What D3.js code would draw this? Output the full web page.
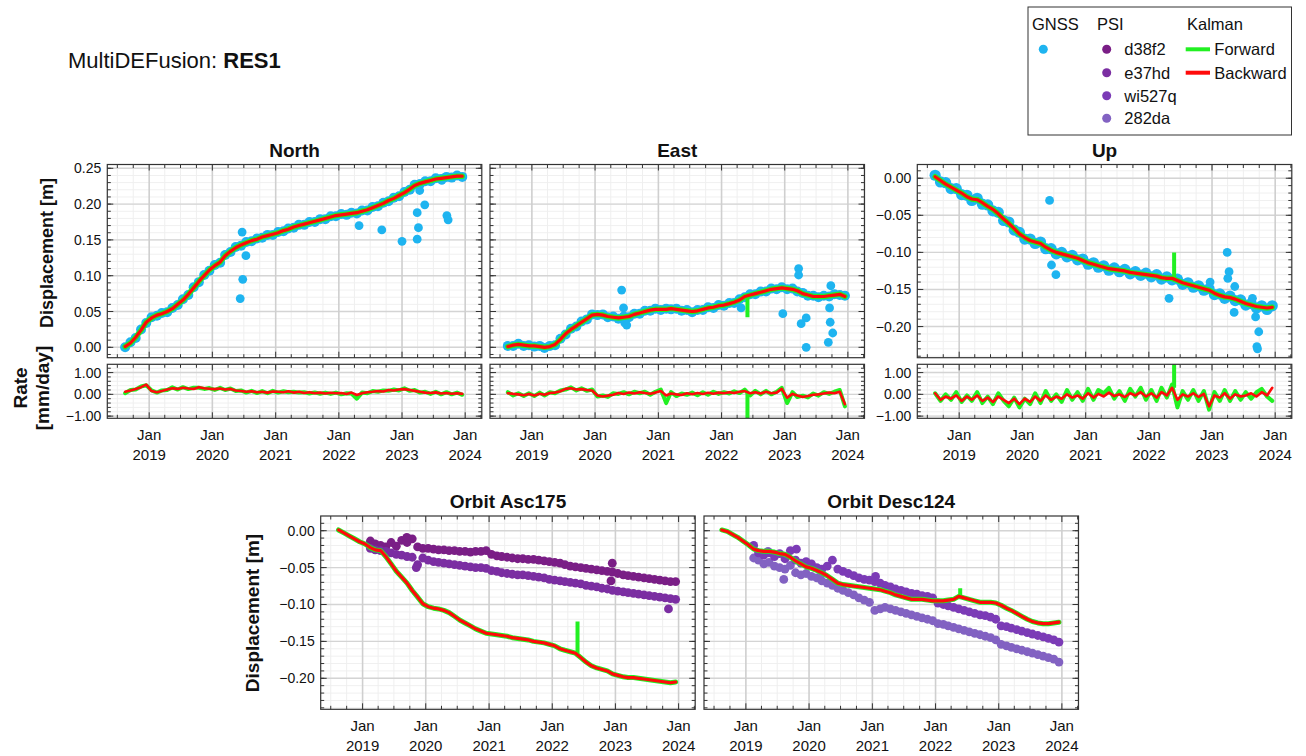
<!DOCTYPE html>
<html>
<head>
<meta charset="utf-8">
<script src="https://cdn.jsdelivr.net/npm/d3@7"></script>
<style>
body { margin: 0; background: #fff; }
text { font-family: "Liberation Sans", Arial, sans-serif; fill: #111; }
</style>
</head>
<body>
<svg id="chart"></svg>
<script>
// ---- data (monthly, Aug 2018 .. Dec 2023; PSI from Feb 2019) ----
let yearTicks = [2019, 2020, 2021, 2022, 2023, 2024]

let gnssNorth = [0.000,0.007,0.013,0.025,0.034,
  0.042,0.044,0.048,0.049,0.055,0.059,0.067,0.073,0.084,0.091,0.101,0.107,
  0.115,0.118,0.129,0.133,0.140,0.142,0.147,0.148,0.152,0.153,0.157,0.157,
  0.161,0.162,0.166,0.167,0.171,0.171,0.175,0.175,0.179,0.179,0.183,0.183,
  0.186,0.185,0.188,0.187,0.191,0.191,0.196,0.197,0.202,0.204,0.209,0.211,
  0.217,0.220,0.227,0.228,0.232,0.232,0.236,0.235,0.238,0.237,0.240,0.238]
let kalmanNorth = [0.001,0.006,0.014,0.024,0.035,
  0.041,0.045,0.047,0.050,0.054,0.060,0.066,0.074,0.083,0.092,0.100,0.108,
  0.114,0.119,0.128,0.134,0.139,0.143,0.146,0.149,0.151,0.154,0.156,0.158,
  0.160,0.163,0.165,0.168,0.170,0.172,0.174,0.176,0.178,0.180,0.182,0.184,
  0.185,0.186,0.187,0.188,0.190,0.192,0.195,0.198,0.201,0.205,0.208,0.212,
  0.216,0.221,0.226,0.229,0.231,0.233,0.235,0.236,0.237,0.238,0.239,0.239]
let outNorth = [[2020.47,0.161],[2020.53,0.128],[2020.48,0.095],[2020.44,0.068],[2022.32,0.170],
  [2022.68,0.164],[2023.0,0.148],[2023.24,0.151],[2023.24,0.188],[2023.26,0.167],[2023.28,0.219],
  [2023.36,0.199],[2023.71,0.184],[2023.73,0.178],[2023.63,0.233]]

let gnssEast = [0.002,0.002,0.005,0.002,0.003,
  0.001,0.002,-0.001,0.002,0.003,0.012,0.018,0.026,0.029,0.036,0.039,0.046,
  0.045,0.046,0.042,0.043,0.040,0.043,0.042,0.047,0.047,0.051,0.051,0.054,
  0.052,0.054,0.053,0.054,0.051,0.052,0.049,0.052,0.052,0.056,0.055,0.059,
  0.058,0.062,0.062,0.067,0.070,0.074,0.074,0.078,0.078,0.082,0.081,0.084,
  0.081,0.082,0.078,0.076,0.072,0.072,0.070,0.072,0.071,0.074,0.073,0.072]
let kalmanEast = [0.001,0.003,0.004,0.003,0.002,
  0.002,0.001,0.000,0.001,0.004,0.011,0.019,0.025,0.030,0.035,0.040,0.045,
  0.046,0.045,0.043,0.042,0.041,0.042,0.043,0.046,0.048,0.050,0.052,0.053,
  0.053,0.053,0.054,0.053,0.052,0.051,0.050,0.051,0.053,0.055,0.056,0.058,
  0.059,0.061,0.063,0.066,0.071,0.073,0.075,0.077,0.079,0.081,0.082,0.083,
  0.082,0.081,0.079,0.075,0.073,0.071,0.071,0.071,0.072,0.073,0.074,0.071]
let outEast = [[2020.42,0.080],[2020.45,0.055],[2020.47,0.034],[2020.5,0.031],[2022.31,0.055],
  [2022.97,0.047],[2023.22,0.110],[2023.22,0.101],[2023.26,0.033],[2023.34,0.041],[2023.34,0.000],
  [2023.73,0.086],[2023.71,0.055],[2023.72,0.035],[2023.76,0.020],[2023.69,0.007]]

let gnssUp = [0.004,-0.005,-0.006,-0.014,-0.014,
  -0.022,-0.023,-0.030,-0.027,-0.035,-0.036,-0.044,-0.046,-0.057,-0.059,-0.070,-0.073,
  -0.082,-0.082,-0.088,-0.086,-0.095,-0.095,-0.102,-0.100,-0.106,-0.104,-0.110,-0.109,
  -0.116,-0.114,-0.120,-0.118,-0.124,-0.121,-0.126,-0.123,-0.129,-0.126,-0.131,-0.128,
  -0.133,-0.130,-0.136,-0.133,-0.137,-0.136,-0.143,-0.141,-0.147,-0.145,-0.151,-0.149,
  -0.157,-0.156,-0.162,-0.159,-0.165,-0.164,-0.171,-0.169,-0.175,-0.172,-0.177,-0.172]
let kalmanUp = [0.002,-0.003,-0.008,-0.012,-0.016,
  -0.020,-0.025,-0.028,-0.029,-0.033,-0.038,-0.042,-0.048,-0.055,-0.061,-0.068,-0.075,
  -0.080,-0.084,-0.086,-0.088,-0.093,-0.097,-0.100,-0.102,-0.104,-0.106,-0.108,-0.111,
  -0.114,-0.116,-0.118,-0.120,-0.122,-0.123,-0.124,-0.125,-0.127,-0.128,-0.129,-0.130,
  -0.131,-0.132,-0.134,-0.135,-0.135,-0.138,-0.141,-0.143,-0.145,-0.147,-0.149,-0.151,
  -0.155,-0.158,-0.160,-0.161,-0.163,-0.166,-0.169,-0.171,-0.173,-0.174,-0.175,-0.174]
let outUp = [[2020.43,-0.030],[2020.46,-0.117],[2020.53,-0.130],[2022.32,-0.162],[2022.97,-0.140],
  [2023.24,-0.100],[2023.27,-0.126],[2023.25,-0.135],[2023.36,-0.146],[2023.35,-0.181],
  [2023.64,-0.162],[2023.69,-0.187],[2023.74,-0.207],[2023.71,-0.227],[2023.72,-0.230]]

// forward-filter excursions: [decimal year, from, to]
let spikeEast = [[2022.41, 0.070, 0.042]]
let spikeUp = [[2022.40, -0.134, -0.100]]
let spikeAsc = [[2022.40, -0.166, -0.123]]
let spikeDesc = [[2022.39, -0.089, -0.078]]

// rates [mm/day]
let rateNorthFwd = [0.05,0.20,0.22,0.36,0.42,
  0.18,0.08,0.18,0.20,0.32,0.22,0.33,0.24,0.30,0.30,0.25,0.29,
  0.20,0.30,0.20,0.27,0.15,0.18,0.08,0.16,0.06,0.15,0.05,0.16,
  0.08,0.14,0.10,0.12,0.08,0.10,0.04,0.09,0.03,0.08,0.02,0.08,
  0.00,0.05,0.04,-0.20,0.08,0.05,0.15,0.12,0.18,0.16,0.22,0.18,
  0.28,0.16,0.20,0.08,0.12,0.02,0.12,0.00,0.10,0.00,0.08,-0.02]
let rateNorthBwd = [0.12,0.18,0.25,0.33,0.45,
  0.15,0.10,0.15,0.22,0.28,0.25,0.30,0.27,0.25,0.33,0.28,0.26,
  0.24,0.27,0.22,0.25,0.18,0.15,0.12,0.14,0.10,0.12,0.08,0.13,
  0.12,0.10,0.14,0.08,0.12,0.06,0.10,0.05,0.08,0.04,0.07,0.05,
  0.06,0.02,0.08,-0.03,0.05,0.10,0.12,0.15,0.13,0.20,0.18,0.22,
  0.24,0.20,0.16,0.12,0.08,0.06,0.09,0.04,0.06,0.03,0.05,0.02]
let rateEastFwd = [0.10,-0.05,0.05,-0.08,0.05,
  -0.08,0.08,-0.05,0.10,0.05,0.18,0.22,0.32,0.18,0.28,0.16,0.22,
  -0.10,-0.05,-0.12,0.05,0.02,0.10,0.00,0.12,0.05,0.12,-0.02,0.12,
  0.22,-0.40,0.10,-0.08,0.04,-0.02,0.08,-0.04,0.10,-0.02,0.12,0.02,
  0.10,0.04,0.14,0.06,0.22,-0.05,0.16,0.00,0.16,0.00,0.12,0.30,
  -0.40,0.10,-0.12,-0.06,-0.14,0.04,-0.06,0.10,0.02,0.12,0.20,-0.55]
let rateEastBwd = [0.05,0.02,0.00,-0.04,0.02,
  -0.05,0.03,-0.02,0.06,0.08,0.14,0.25,0.28,0.22,0.24,0.20,0.18,
  -0.05,-0.10,-0.06,-0.02,0.06,0.02,0.08,0.04,0.10,0.06,0.03,0.08,
  0.15,-0.05,0.04,0.00,-0.03,0.05,0.00,0.06,0.02,0.07,0.03,0.08,
  0.05,0.10,0.06,0.12,0.15,0.05,0.10,0.04,0.12,0.05,0.08,0.25,
  -0.15,0.02,-0.05,-0.12,-0.08,-0.02,0.00,0.04,0.08,0.05,0.12,-0.45]
let rateUpFwd = [0.05,-0.30,0.00,-0.25,0.10,
  -0.35,-0.05,-0.30,0.10,-0.40,-0.10,-0.45,0.05,-0.30,-0.55,-0.15,-0.60,
  -0.20,-0.45,0.05,-0.40,0.15,-0.30,0.00,-0.35,0.20,-0.25,0.10,-0.30,
  0.25,-0.25,0.20,0.05,0.30,-0.20,0.15,-0.30,0.25,-0.10,0.30,-0.25,
  0.20,-0.30,0.30,-0.15,0.45,-0.60,0.15,-0.25,0.20,-0.30,0.15,-0.70,
  0.10,-0.30,0.20,-0.30,0.15,-0.25,0.10,-0.20,0.10,0.25,-0.10,-0.30]
let rateUpBwd = [0.05,-0.25,-0.10,-0.20,-0.05,
  -0.30,-0.10,-0.25,-0.05,-0.30,-0.15,-0.35,-0.10,-0.25,-0.40,-0.20,-0.45,
  -0.20,-0.35,-0.10,-0.30,-0.05,-0.25,-0.10,-0.20,0.00,-0.15,-0.05,-0.20,
  0.05,-0.15,0.02,-0.10,0.08,-0.08,0.00,-0.12,0.05,-0.05,0.10,-0.10,
  0.05,-0.15,0.10,-0.05,0.30,-0.25,0.00,-0.10,0.05,-0.12,0.02,-0.55,
  -0.05,-0.15,0.05,-0.20,0.00,-0.10,-0.05,0.05,-0.10,0.10,-0.05,0.30]
let rateSpikeEast = [[2022.41, 0.10, -1.4]]
let rateSpikeUp = [[2022.40, 0.30, 1.6]]

let kalmanAsc = [0.001,-0.003,-0.007,-0.011,-0.015,
  -0.018,-0.023,-0.026,-0.027,-0.035,-0.045,-0.055,-0.063,-0.071,-0.081,-0.090,-0.099,
  -0.103,-0.105,-0.106,-0.108,-0.111,-0.116,-0.121,-0.125,-0.129,-0.133,-0.136,-0.139,
  -0.140,-0.141,-0.142,-0.143,-0.145,-0.146,-0.147,-0.148,-0.150,-0.151,-0.152,-0.154,
  -0.156,-0.160,-0.162,-0.164,-0.166,-0.172,-0.178,-0.183,-0.186,-0.188,-0.190,-0.194,
  -0.196,-0.198,-0.199,-0.199,-0.200,-0.201,-0.202,-0.203,-0.204,-0.205,-0.206,-0.205]
let psiD38f2 = [-0.014,-0.018,-0.020,-0.022,-0.016,-0.021,-0.013,-0.016,-0.011,-0.022,-0.024,
  -0.024,-0.025,-0.026,-0.026,-0.027,-0.027,-0.028,-0.028,-0.029,-0.028,-0.028,-0.027,
  -0.032,-0.034,-0.035,-0.036,-0.037,-0.038,-0.038,-0.039,-0.039,-0.040,-0.041,-0.042,
  -0.043,-0.044,-0.046,-0.048,-0.049,-0.050,-0.051,-0.052,-0.053,-0.054,-0.055,-0.056,
  -0.058,-0.060,-0.061,-0.062,-0.063,-0.064,-0.065,-0.066,-0.067,-0.068,-0.069,-0.069]
let psiE37hd = [-0.024,-0.026,-0.027,-0.028,-0.030,-0.032,-0.033,-0.035,-0.036,-0.046,-0.037,
  -0.040,-0.042,-0.043,-0.044,-0.045,-0.046,-0.047,-0.048,-0.049,-0.050,-0.050,-0.051,
  -0.054,-0.055,-0.057,-0.058,-0.059,-0.060,-0.060,-0.061,-0.062,-0.063,-0.064,-0.066,
  -0.067,-0.068,-0.069,-0.070,-0.071,-0.072,-0.074,-0.075,-0.076,-0.078,-0.079,-0.081,
  -0.082,-0.083,-0.084,-0.085,-0.086,-0.087,-0.088,-0.089,-0.090,-0.091,-0.092,-0.093]
let outD38f2 = [[2022.95,-0.044],[2022.93,-0.068],[2019.7,-0.009]]
let outE37hd = [[2023.84,-0.106],[2019.85,-0.050]]

let kalmanDesc = [0.001,-0.001,-0.005,-0.009,-0.014,
  -0.019,-0.025,-0.027,-0.028,-0.028,-0.029,-0.031,-0.032,-0.036,-0.041,-0.045,-0.049,
  -0.051,-0.054,-0.057,-0.061,-0.066,-0.071,-0.073,-0.074,-0.075,-0.076,-0.077,-0.078,
  -0.079,-0.080,-0.082,-0.084,-0.087,-0.089,-0.091,-0.093,-0.093,-0.093,-0.094,-0.095,
  -0.095,-0.095,-0.094,-0.093,-0.089,-0.091,-0.093,-0.095,-0.097,-0.097,-0.097,-0.098,
  -0.101,-0.105,-0.108,-0.112,-0.116,-0.120,-0.123,-0.125,-0.126,-0.126,-0.125,-0.124]
let psiWi527q = [-0.020,-0.030,-0.033,-0.030,-0.035,-0.031,-0.038,-0.027,-0.040,-0.044,-0.042,
  -0.045,-0.050,-0.052,-0.048,-0.040,-0.052,-0.055,-0.058,-0.061,-0.064,-0.066,-0.067,
  -0.069,-0.071,-0.074,-0.076,-0.079,-0.081,-0.083,-0.085,-0.086,-0.088,-0.089,-0.091,
  -0.098,-0.100,-0.102,-0.104,-0.106,-0.108,-0.110,-0.112,-0.114,-0.115,-0.117,-0.120,
  -0.129,-0.130,-0.132,-0.134,-0.136,-0.138,-0.140,-0.142,-0.144,-0.146,-0.148,-0.151]
let psi282da = [-0.037,-0.040,-0.045,-0.043,-0.048,-0.050,-0.052,-0.047,-0.057,-0.060,-0.058,
  -0.062,-0.064,-0.068,-0.071,-0.074,-0.078,-0.081,-0.084,-0.087,-0.091,-0.094,-0.097,
  -0.108,-0.106,-0.104,-0.106,-0.108,-0.110,-0.112,-0.114,-0.116,-0.118,-0.120,-0.122,
  -0.126,-0.127,-0.129,-0.131,-0.133,-0.135,-0.137,-0.139,-0.141,-0.143,-0.145,-0.148,
  -0.154,-0.156,-0.158,-0.160,-0.162,-0.164,-0.166,-0.168,-0.170,-0.172,-0.174,-0.178]
let outWi527q = [[2019.8,-0.025],[2021.05,-0.062]]
let out282da = [[2019.35,-0.028],[2019.6,-0.066],[2020.2,-0.058]]

let colors = {
  gnss: '#1eb4f0', fwd: '#22f022', bwd: '#ff0a0a',
  d38f2: '#7a1e86', e37hd: '#7b2ea2', wi527q: '#7b3bb6', '282da': '#8262c2'
}

// ---- layout ----
let svg = d3.select('#chart').attr('width', 1306).attr('height', 756)
let panelW = 374.5
let months = d3.timeMonth.range(new Date(2018, 7, 1), new Date(2024, 0, 1)).map(d => d3.timeDay.offset(d, 14))
let psiMonths = months.slice(6)
let clipN = 0

let toDate = (t) => {
    let y = Math.floor(t)
    let s = new Date(y, 0, 1), e = new Date(y + 1, 0, 1)
    return new Date(+s + (t - y) * (e - s))
}
let zip = (dates, vals) => dates.map((d, i) => [d, vals[i]])

let drawPanel = (cfg) => {
    let x = d3.scaleTime().domain([new Date(2018, 4, 4), new Date(2024, 3, 6)]).range([cfg.x0, cfg.x0 + panelW])
    let y = d3.scaleLinear().domain(cfg.domain).range([cfg.y0 + cfg.h, cfg.y0])
    let x1 = cfg.x0 + panelW, y1 = cfg.y0 + cfg.h
    let g = svg.append('g')

    let minorX = d3.timeMonth.every(3).range(x.domain()[0], x.domain()[1]).filter(d => d.getMonth() != 0)
    let majorX = yearTicks.map(t => new Date(t, 0, 1))
    let minorY = d3.range(Math.ceil(cfg.domain[0] / cfg.minor), Math.floor(cfg.domain[1] / cfg.minor) + 1).map(k => k * cfg.minor)

    // grid
    g.selectAll(null).data(minorY).enter().append('line')
        .attr('x1', cfg.x0).attr('x2', x1).attr('y1', d => y(d)).attr('y2', d => y(d))
        .attr('stroke', '#f0f0f0').attr('stroke-width', 1)
    g.selectAll(null).data(minorX).enter().append('line')
        .attr('x1', d => x(d)).attr('x2', d => x(d)).attr('y1', cfg.y0).attr('y2', y1)
        .attr('stroke', '#efefef').attr('stroke-width', 1)
    g.selectAll(null).data(cfg.major).enter().append('line')
        .attr('x1', cfg.x0).attr('x2', x1).attr('y1', d => y(d)).attr('y2', d => y(d))
        .attr('stroke', '#d4d4d4').attr('stroke-width', 1.4)
    g.selectAll(null).data(majorX).enter().append('line')
        .attr('x1', d => x(d)).attr('x2', d => x(d)).attr('y1', cfg.y0).attr('y2', y1)
        .attr('stroke', '#cfcfcf').attr('stroke-width', 1.6)

    let id = 'clip' + (clipN++)
    svg.append('clipPath').attr('id', id).append('rect')
        .attr('x', cfg.x0).attr('y', cfg.y0).attr('width', panelW).attr('height', cfg.h)
    let plot = svg.append('g').attr('clip-path', 'url(#' + id + ')')

    // frame and inward ticks, drawn after the data
    let finish = () => {
        let f = svg.append('g').attr('stroke', '#333').attr('stroke-width', 1)
        let tickX = (d, len) => {
            f.append('line').attr('x1', x(d)).attr('x2', x(d)).attr('y1', y1).attr('y2', y1 - len)
            f.append('line').attr('x1', x(d)).attr('x2', x(d)).attr('y1', cfg.y0).attr('y2', cfg.y0 + len)
        }
        let tickY = (v, len) => {
            f.append('line').attr('x1', cfg.x0).attr('x2', cfg.x0 + len).attr('y1', y(v)).attr('y2', y(v))
            f.append('line').attr('x1', x1).attr('x2', x1 - len).attr('y1', y(v)).attr('y2', y(v))
        }
        minorX.forEach(d => tickX(d, 3.5))
        majorX.forEach(d => tickX(d, 6))
        minorY.forEach(v => tickY(v, 3.5))
        cfg.major.forEach(v => tickY(v, 6))
        svg.append('rect').attr('x', cfg.x0).attr('y', cfg.y0).attr('width', panelW).attr('height', cfg.h)
            .attr('fill', 'none').attr('stroke', '#333').attr('stroke-width', 1.2)

        if (cfg.yLabels) {
            svg.append('g').selectAll('text').data(cfg.major).enter().append('text')
                .attr('x', cfg.x0 - 6).attr('y', d => y(d) + 5)
                .attr('text-anchor', 'end').attr('font-size', 14)
                .text(d => d3.format('.2f')(d))
        }
        if (cfg.xLabels) {
            let t = svg.append('g').selectAll('text').data(majorX).enter().append('text')
                .attr('text-anchor', 'middle').attr('font-size', 15)
            t.append('tspan').attr('x', d => x(d)).attr('y', y1 + 22).text('Jan')
            t.append('tspan').attr('x', d => x(d)).attr('y', y1 + 42).text(d => d.getFullYear())
        }
        if (cfg.title) {
            svg.append('text').attr('x', cfg.x0 + panelW / 2).attr('y', cfg.y0 - 8)
                .attr('text-anchor', 'middle').attr('font-size', 19).attr('font-weight', 'bold')
                .text(cfg.title)
        }
    }
    return { x, y, plot, finish }
}

let dots = (p, data, color, r) => {
    p.plot.append('g').selectAll('circle').data(data).enter().append('circle')
        .attr('cx', d => p.x(d[0])).attr('cy', d => p.y(d[1])).attr('r', r).attr('fill', color)
}
let path = (p, data, color, w) => {
    p.plot.append('path').datum(data)
        .attr('d', d3.line().x(d => p.x(d[0])).y(d => p.y(d[1])))
        .attr('fill', 'none').attr('stroke', color).attr('stroke-width', w)
        .attr('stroke-linejoin', 'round').attr('stroke-linecap', 'round')
}
let spikes = (p, data, color, w) => {
    p.plot.append('g').selectAll('line').data(data).enter().append('line')
        .attr('x1', d => p.x(toDate(d[0]))).attr('x2', d => p.x(toDate(d[0])))
        .attr('y1', d => p.y(d[1])).attr('y2', d => p.y(d[2]))
        .attr('stroke', color).attr('stroke-width', w)
}

// ---- top row: GNSS components ----
let topY = 164.5, topH = 193.2, rateY = 364.3, rateH = 54
let topPanels = [
    { x0: 107.3, title: 'North', gnss: gnssNorth, k: kalmanNorth, out: outNorth, spk: [], domain: [-0.0145, 0.2553],
      major: [0, 0.05, 0.10, 0.15, 0.20, 0.25], rf: rateNorthFwd, rb: rateNorthBwd, rs: [], labels: true, r: 5 },
    { x0: 490, title: 'East', gnss: gnssEast, k: kalmanEast, out: outEast, spk: spikeEast, domain: [-0.0145, 0.2553],
      major: [0, 0.05, 0.10, 0.15, 0.20, 0.25], rf: rateEastFwd, rb: rateEastBwd, rs: rateSpikeEast, labels: false, r: 5 },
    { x0: 917.3, title: 'Up', gnss: gnssUp, k: kalmanUp, out: outUp, spk: spikeUp, domain: [-0.242, 0.0185],
      major: [0, -0.05, -0.10, -0.15, -0.20], rf: rateUpFwd, rb: rateUpBwd, rs: rateSpikeUp, labels: true, r: 5.6 }
]

topPanels.forEach(c => {
    let p = drawPanel({ x0: c.x0, y0: topY, h: topH, domain: c.domain, major: c.major, minor: 0.01,
                        yLabels: c.labels, xLabels: false, title: c.title })
    dots(p, zip(months, c.gnss), colors.gnss, c.r)
    dots(p, c.out.map(d => [toDate(d[0]), d[1]]), colors.gnss, 4.4)
    path(p, zip(months, c.k), colors.fwd, 5.5)
    spikes(p, c.spk, colors.fwd, 4)
    path(p, zip(months, c.k), colors.bwd, 3.2)
    p.finish()

    let r = drawPanel({ x0: c.x0, y0: rateY, h: rateH, domain: [-1.1, 1.38], major: [-1, 0, 1], minor: 0.2,
                        yLabels: c.labels, xLabels: true })
    path(r, zip(months, c.rf), colors.fwd, 4)
    spikes(r, c.rs, colors.fwd, 4)
    path(r, zip(months, c.rb), colors.bwd, 2.6)
    r.finish()
})

// ---- bottom row: InSAR orbits ----
let orbY = 516, orbH = 193.3
let orbPanels = [
    { x0: 320.7, title: 'Orbit Asc175', k: kalmanAsc, spk: spikeAsc, labels: true,
      psi: [[psiD38f2, colors.d38f2, outD38f2], [psiE37hd, colors.e37hd, outE37hd]] },
    { x0: 704, title: 'Orbit Desc124', k: kalmanDesc, spk: spikeDesc, labels: false,
      psi: [[psi282da, colors['282da'], out282da], [psiWi527q, colors.wi527q, outWi527q]] }
]
orbPanels.forEach(c => {
    let p = drawPanel({ x0: c.x0, y0: orbY, h: orbH, domain: [-0.242, 0.0199], major: [0, -0.05, -0.10, -0.15, -0.20],
                        minor: 0.01, yLabels: c.labels, xLabels: true, title: c.title })
    c.psi.forEach(s => {
        dots(p, zip(psiMonths, s[0]), s[1], 4.4)
        dots(p, s[2].map(d => [toDate(d[0]), d[1]]), s[1], 4.4)
    })
    path(p, zip(months, c.k), colors.fwd, 5)
    spikes(p, c.spk, colors.fwd, 4)
    path(p, zip(months, c.k), colors.bwd, 3.2)
    p.finish()
})

// ---- axis titles ----
let vText = (x, y, size, txt) => svg.append('text')
    .attr('transform', 'translate(' + x + ',' + y + ') rotate(-90)')
    .attr('text-anchor', 'middle').attr('font-size', size).attr('font-weight', 'bold').text(txt)
vText(53, 253, 18, 'Displacement [m]')
vText(27, 388, 19, 'Rate')
vText(49, 388, 19, '[mm/day]')
vText(259, 613, 19, 'Displacement [m]')

// ---- main title ----
let title = svg.append('text').attr('x', 68).attr('y', 68).attr('font-size', 22)
title.append('tspan').text('MultiDEFusion: ')
title.append('tspan').attr('font-weight', 'bold').text('RES1')

// ---- legend ----
let lg = svg.append('g')
lg.append('rect').attr('x', 1028).attr('y', 7).attr('width', 263.5).attr('height', 128)
    .attr('fill', '#fff').attr('stroke', '#333').attr('stroke-width', 1)
let heads = [['GNSS', 1032], ['PSI', 1097], ['Kalman', 1187]]
lg.selectAll('text.h').data(heads).enter().append('text').attr('class', 'h')
    .attr('x', d => d[1]).attr('y', 30).attr('font-size', 16.5).text(d => d[0])
lg.append('circle').attr('cx', 1043.3).attr('cy', 49.3).attr('r', 4.5).attr('fill', colors.gnss)
let psiNames = ['d38f2', 'e37hd', 'wi527q', '282da']
let rowY = [49.3, 72.7, 95.7, 118.3]
psiNames.forEach((n, i) => {
    lg.append('circle').attr('cx', 1106.7).attr('cy', rowY[i]).attr('r', 4.5).attr('fill', colors[n])
    lg.append('text').attr('x', 1124.3).attr('y', rowY[i] + 6).attr('font-size', 16.5).text(n)
})
let kNames = [['Forward', colors.fwd], ['Backward', colors.bwd]]
kNames.forEach((k, i) => {
    lg.append('line').attr('x1', 1185.7).attr('x2', 1210).attr('y1', rowY[i]).attr('y2', rowY[i])
        .attr('stroke', k[1]).attr('stroke-width', 4)
    lg.append('text').attr('x', 1214.3).attr('y', rowY[i] + 6).attr('font-size', 16.5).text(k[0])
})
</script>
</body>
</html>
